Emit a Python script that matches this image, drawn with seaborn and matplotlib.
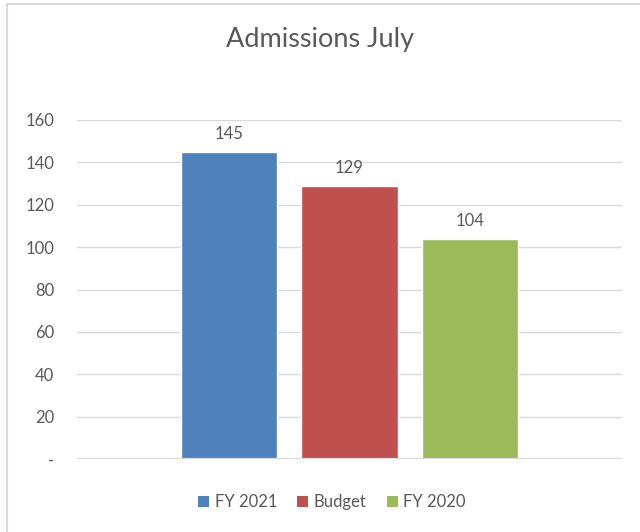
import matplotlib
matplotlib.use("Agg")
import matplotlib.pyplot as plt
from matplotlib.lines import Line2D
from matplotlib.patches import Patch
import seaborn as sns
import pandas as pd

# Admissions for July
series = ["FY 2021", "Budget", "FY 2020"]
values = [145, 129, 104]
colors = ["#4F81BD", "#C0504D", "#9BBB59"]
yticks = [0, 20, 40, 60, 80, 100, 120, 140, 160]
ytick_labels = ["-", "20", "40", "60", "80", "100", "120", "140", "160"]

sns.set_theme(style="white")
plt.rcParams["font.family"] = ["Lato", "DejaVu Sans"]
text_color = "#595959"
grid_color = "#D9D9D9"

df = pd.DataFrame({"series": series, "value": values})

fig = plt.figure(figsize=(6.4, 5.32), dpi=100)
ax = fig.add_axes([77 / 640, 1 - 459 / 532, (622 - 77) / 640, (459 - 120) / 532])

sns.barplot(data=df, x="series", y="value", hue="series", order=series,
            hue_order=series, palette=colors, width=0.8, legend=False,
            saturation=1, ax=ax, zorder=3)

ax.set_xlim(-1.267, 3.267)
ax.set_ylim(0, 160)
ax.set_yticks(yticks)
ax.set_yticklabels(ytick_labels, color=text_color, fontsize=12)
ax.tick_params(axis="y", length=0, pad=16.5)
ax.set_xticks([])
ax.set_xlabel("")
ax.set_ylabel("")

for y in yticks[1:]:
    ax.axhline(y, color=grid_color, lw=1, zorder=1)
ax.axhline(0, color=grid_color, lw=1.6, zorder=4)

for s in ax.spines.values():
    s.set_visible(False)

for cont in ax.containers:
    ax.bar_label(cont, fmt="%d", padding=7, color=text_color, fontsize=12)

fig.text(0.5, 1 - 40 / 532, "Admissions July", ha="center", va="center",
         fontsize=19.5, color=text_color)

handles = [Patch(facecolor=c, edgecolor="none") for c in colors]
fig.legend(handles, series, loc="center", bbox_to_anchor=(332 / 640, 1 - 502 / 532),
           ncol=3, frameon=False, fontsize=12, handlelength=0.65, handleheight=0.65,
           handletextpad=0.35, columnspacing=1.2, labelcolor=text_color)

# chart frame
fig.add_artist(Line2D([7 / 640, 7 / 640], [0, 1 - 4 / 532], transform=fig.transFigure,
                      color=grid_color, lw=1.5))
fig.add_artist(Line2D([7 / 640, 1], [1 - 4 / 532, 1 - 4 / 532], transform=fig.transFigure,
                      color=grid_color, lw=1.5))

fig.savefig("out.png", dpi=100, facecolor="white")
